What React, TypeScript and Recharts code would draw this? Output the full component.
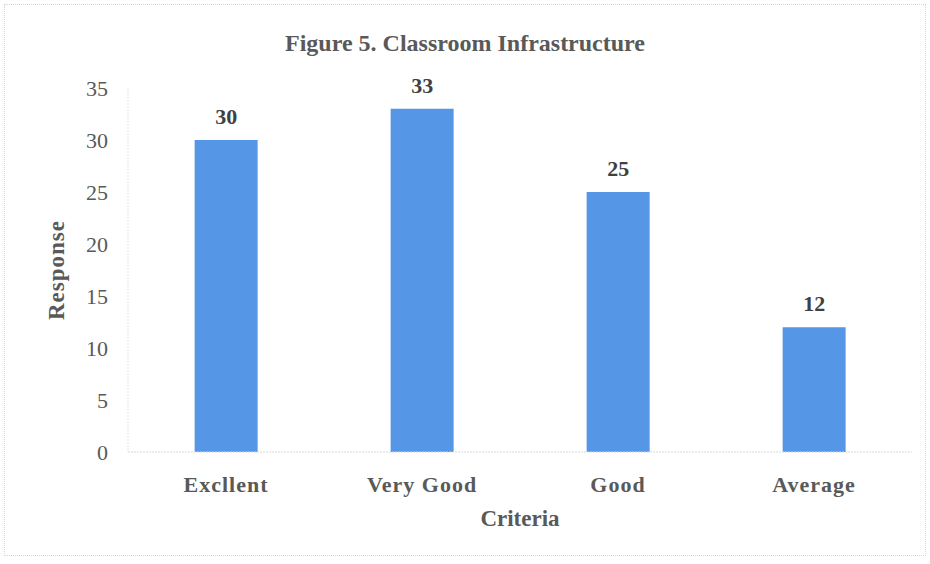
import { Bar, BarChart, LabelList, XAxis, YAxis, Label } from 'recharts'

const categories = ['Excllent', 'Very Good', 'Good', 'Average']
const responses = [30, 33, 25, 12]
const yTicks = [0, 5, 10, 15, 20, 25, 30, 35]

const data = categories.map((name, i) => ({ name, value: responses[i] }))

const FONT = '"Liberation Serif", "Times New Roman", serif'
const TEXT = '#595959'

export default function App() {
  return (
    <div style={{ position: 'fixed', left: 0, top: 0, width: 930, height: 564, background: '#fff', fontFamily: FONT }}>
      <div
        style={{
          position: 'absolute',
          left: 4,
          top: 4,
          width: 920,
          height: 550,
          border: '1px dotted #d6d6d6',
        }}
      />
      <div
        style={{
          position: 'absolute',
          top: 30,
          width: '100%',
          textAlign: 'center',
          fontSize: 24,
          fontWeight: 'bold',
          color: TEXT,
        }}
      >
        Figure 5. Classroom Infrastructure
      </div>
      <div style={{ position: 'absolute', left: 0, top: 0 }}>
        <BarChart width={930} height={564} data={data} margin={{ top: 88, right: 18, bottom: 28, left: 0 }} barCategoryGap="34%">
          <XAxis
            dataKey="name"
            axisLine={{ stroke: '#d9d9d9', strokeDasharray: '2 1' }}
            tickLine={false}
            tick={{ fontSize: 22, fill: TEXT, fontFamily: FONT, fontWeight: 'bold', letterSpacing: 1 }}
            tickMargin={18}
            height={84}
          >
            <Label value="Criteria" position="insideBottom" offset={10} style={{ fontSize: 23, fill: TEXT, fontFamily: FONT, fontWeight: 'bold' }} />
          </XAxis>
          <YAxis
            domain={[0, 35]}
            ticks={yTicks}
            interval={0}
            axisLine={{ stroke: '#e3e3e3', strokeDasharray: '2 1' }}
            tickLine={false}
            tick={{ fontSize: 22, fill: TEXT, fontFamily: FONT }}
            tickMargin={14}
            width={128}
          >
            <Label
              value="Response"
              angle={-90}
              position="insideLeft"
              offset={56}
              style={{ fontSize: 23, fill: TEXT, fontFamily: FONT, fontWeight: 'bold', textAnchor: 'middle', letterSpacing: 1 }}
            />
          </YAxis>
          <Bar dataKey="value" fill="#5596e6" isAnimationActive={false}>
            <LabelList dataKey="value" position="top" offset={16} style={{ fontSize: 22, fill: '#404040', fontFamily: FONT, fontWeight: 'bold' }} />
          </Bar>
        </BarChart>
      </div>
    </div>
  )
}
